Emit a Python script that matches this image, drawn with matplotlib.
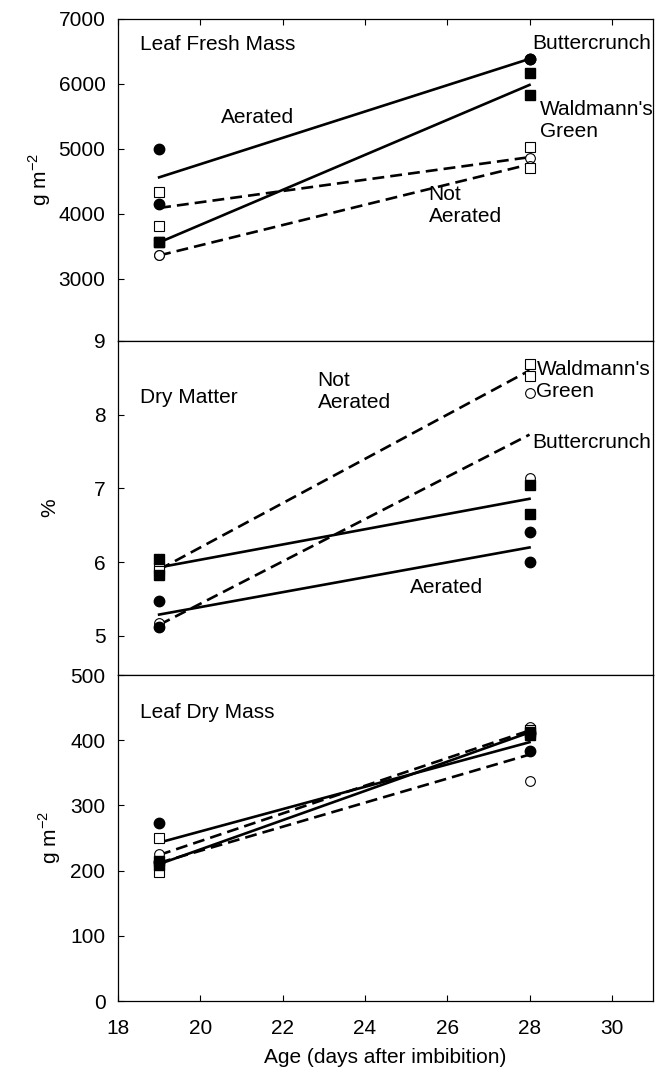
import numpy as np
import matplotlib.pyplot as plt

plt.rcParams['font.family'] = ['Liberation Sans', 'DejaVu Sans']
plt.rcParams['font.size'] = 15

days = [19, 28]

# Leaf fresh mass (g m-2), individual points at day 19 and day 28
fm_butter_aer = ([5000, 4150], [6380, 6380])
fm_wald_aer = ([3560, 3560], [6160, 5820])
fm_butter_not = ([3370, 3370], [4860, 4730])
fm_wald_not = ([4340, 3820], [5030, 4700])
# fitted lines (day 19, day 28)
fm_fit_butter_aer = [4560, 6380]
fm_fit_wald_aer = [3560, 5980]
fm_fit_butter_not = [3360, 4760]
fm_fit_wald_not = [4090, 4870]

# Dry matter (%)
dm_butter_aer = ([5.47, 5.12], [6.41, 6.00])
dm_wald_aer = ([6.04, 5.82], [7.05, 6.65])
dm_butter_not = ([5.18, 5.12], [8.30, 7.14])
dm_wald_not = ([5.92, 5.88], [8.69, 8.53])
dm_fit_butter_aer = [5.29, 6.20]
dm_fit_wald_aer = [5.93, 6.86]
dm_fit_butter_not = [5.15, 7.73]
dm_fit_wald_not = [5.90, 8.60]

# Leaf dry mass (g m-2)
dw_butter_aer = ([273, 213], [383, 411])
dw_wald_aer = ([215, 208], [413, 408])
dw_butter_not = ([226, 198], [421, 337])
dw_wald_not = ([250, 198], [415, 415])
dw_fit_butter_aer = [243, 397]
dw_fit_wald_aer = [210, 412]
dw_fit_butter_not = [212, 378]
dw_fit_wald_not = [224, 415]

fig = plt.figure(figsize=(6.65, 10.78), dpi=100)
left, width = 0.1774, 0.8045
ax1 = fig.add_axes([left, 0.6837, width, 0.2991])
ax2 = fig.add_axes([left, 0.3738, width, 0.3099])
ax3 = fig.add_axes([left, 0.0714, width, 0.3024])


def draw(ax, pts, fits):
    ba, wa, bn, wn = pts
    fba, fwa, fbn, fwn = fits
    ax.plot(days, fba, color='black', lw=1.9, zorder=2)
    ax.plot(days, fwa, color='black', lw=1.9, zorder=2)
    ax.plot(days, fbn, color='black', lw=1.9, ls=(0, (4.5, 2.3)), zorder=2)
    ax.plot(days, fwn, color='black', lw=1.9, ls=(0, (4.5, 2.3)), zorder=2)
    for d, i in zip(days, [0, 1]):
        ax.plot([d] * 2, bn[i], 'o', mfc='white', mec='black', ms=7, mew=0.8, zorder=3)
        ax.plot([d] * 2, wn[i], 's', mfc='white', mec='black', ms=6.5, mew=0.8, zorder=3)
        ax.plot([d] * 2, ba[i], 'o', mfc='black', mec='black', ms=7.5, zorder=4)
        ax.plot([d] * 2, wa[i], 's', mfc='black', mec='black', ms=6.5, zorder=4)


draw(ax1, (fm_butter_aer, fm_wald_aer, fm_butter_not, fm_wald_not),
     (fm_fit_butter_aer, fm_fit_wald_aer, fm_fit_butter_not, fm_fit_wald_not))
draw(ax2, (dm_butter_aer, dm_wald_aer, dm_butter_not, dm_wald_not),
     (dm_fit_butter_aer, dm_fit_wald_aer, dm_fit_butter_not, dm_fit_wald_not))
draw(ax3, (dw_butter_aer, dw_wald_aer, dw_butter_not, dw_wald_not),
     (dw_fit_butter_aer, dw_fit_wald_aer, dw_fit_butter_not, dw_fit_wald_not))

for ax in (ax1, ax2, ax3):
    ax.set_xlim(18, 31)
    ax.set_xticks(np.arange(18, 31, 2))
    ax.tick_params(direction='in', length=4, width=0.8, labelsize=15)
    ax.tick_params(axis='y', pad=9)
    ax.tick_params(axis='x', pad=13)
    for s in ax.spines.values():
        s.set_linewidth(0.9)

ax1.set_ylim(2046, 7000)
ax1.set_yticks([3000, 4000, 5000, 6000, 7000])
ax1.tick_params(axis='x', bottom=False, top=True, labelbottom=False)
ax2.set_ylim(4.47, 9)
ax2.set_yticks([5, 6, 7, 8, 9])
ax2.tick_params(axis='x', bottom=False, labelbottom=False)
ax3.set_ylim(0, 500)
ax3.set_yticks([0, 100, 200, 300, 400, 500])

ax1.set_ylabel('g m$^{\\mathregular{-2}}$', fontsize=15)
ax2.set_ylabel('%', fontsize=15)
ax3.set_ylabel('g m$^{\\mathregular{-2}}$', fontsize=15)
ax1.yaxis.set_label_coords(-0.121, 0.5)
ax2.yaxis.set_label_coords(-0.110, 0.5)
ax3.yaxis.set_label_coords(-0.103, 0.5)
ax3.set_xlabel('Age (days after imbibition)', fontsize=15, labelpad=7)

kw = dict(fontsize=15, va='center', linespacing=1.2)
ax1.text(0.041, 0.918, 'Leaf Fresh Mass', transform=ax1.transAxes, **kw)
ax1.text(28.07, 6620, 'Buttercrunch', **kw)
ax1.text(20.5, 5480, 'Aerated', **kw)
ax1.text(28.25, 5440, "Waldmann's\nGreen", **kw)
ax1.text(25.55, 4120, 'Not\nAerated', **kw)

ax2.text(0.041, 0.83, 'Dry Matter', transform=ax2.transAxes, **kw)
ax2.text(28.17, 8.46, "Waldmann's\nGreen", **kw)
ax2.text(28.07, 7.63, 'Buttercrunch', **kw)
ax2.text(22.85, 8.31, 'Not\nAerated', **kw)
ax2.text(25.09, 5.66, 'Aerated', **kw)

ax3.text(0.041, 0.885, 'Leaf Dry Mass', transform=ax3.transAxes, **kw)

fig.savefig('out.png', dpi=100)
